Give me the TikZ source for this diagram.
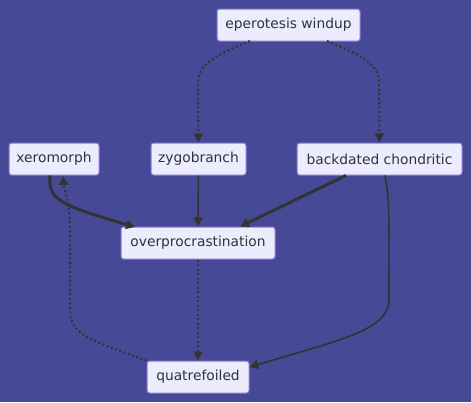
\documentclass[tikz,border=0pt]{standalone}
\usepackage{fontspec}
\setmainfont{DejaVu Sans}
\usetikzlibrary{arrows.meta}
\definecolor{bgc}{RGB}{70,74,150}
\definecolor{nodefill}{RGB}{236,236,255}
\definecolor{nodeline}{RGB}{147,112,219}
\definecolor{edgec}{RGB}{51,51,51}
\tikzset{
  box/.style={draw=nodeline, fill=nodefill, rounded corners=2.5pt, line width=1pt,
    text=edgec, font=\fontsize{13.8}{16}\selectfont, minimum height=32pt, inner xsep=7pt, anchor=center},
  edge/.style={draw=edgec, line width=1.6pt, -{Triangle[length=9pt,width=9pt]}},
  thick edge/.style={edge, line width=3pt},
  dot edge/.style={edge, dash pattern=on 2pt off 2.5pt, line width=2pt},
}
\begin{document}
\begin{tikzpicture}[x=1pt,y=-1pt]
\fill[bgc] (0,0) rectangle (471,402);
\useasboundingbox (0,0) rectangle (471,402);
\node[box, minimum width=143pt] (e) at (288.5,25) {eperotesis windup};
\node[box, minimum width=90pt] (x) at (54,159) {xeromorph};
\node[box, minimum width=95pt] (z) at (198.5,159) {zygobranch};
\node[box, minimum width=165pt] (b) at (379.5,159) {backdated chondritic};
\node[box, minimum width=154pt] (o) at (198,243) {overprocrastination};
\node[box, minimum width=102pt] (q) at (198,377) {quatrefoiled};

\coordinate (e1) at (250,41);
\coordinate (e2) at (327,41);
\draw[dot edge] (e1) .. controls (198,62) and (198,70) .. (198,90) -- (z.north);
\draw[dot edge] (e2) .. controls (379,62) and (379,70) .. (379,90) -- (b.north);
\draw[thick edge] (x.south -| 50,0) .. controls (48,200) and (60,205) .. (135,227);
\draw[edge] (z) -- (o);
\draw[thick edge] (b.south -| 346,0) -- (o.north -| 240,0);
\draw[edge] (b.south -| 385,0) .. controls (390,200) and (389,230) .. (389,300)
  .. controls (389,330) and (340,340) .. (q.east |- 0,367);
\draw[dot edge] (o) -- (q);
\draw[dot edge] (q.north west) .. controls (90,340) and (70,335) .. (70,310) -- (70,230) .. controls (70,200) and (64,190) .. (63,176);
\end{tikzpicture}
\end{document}
